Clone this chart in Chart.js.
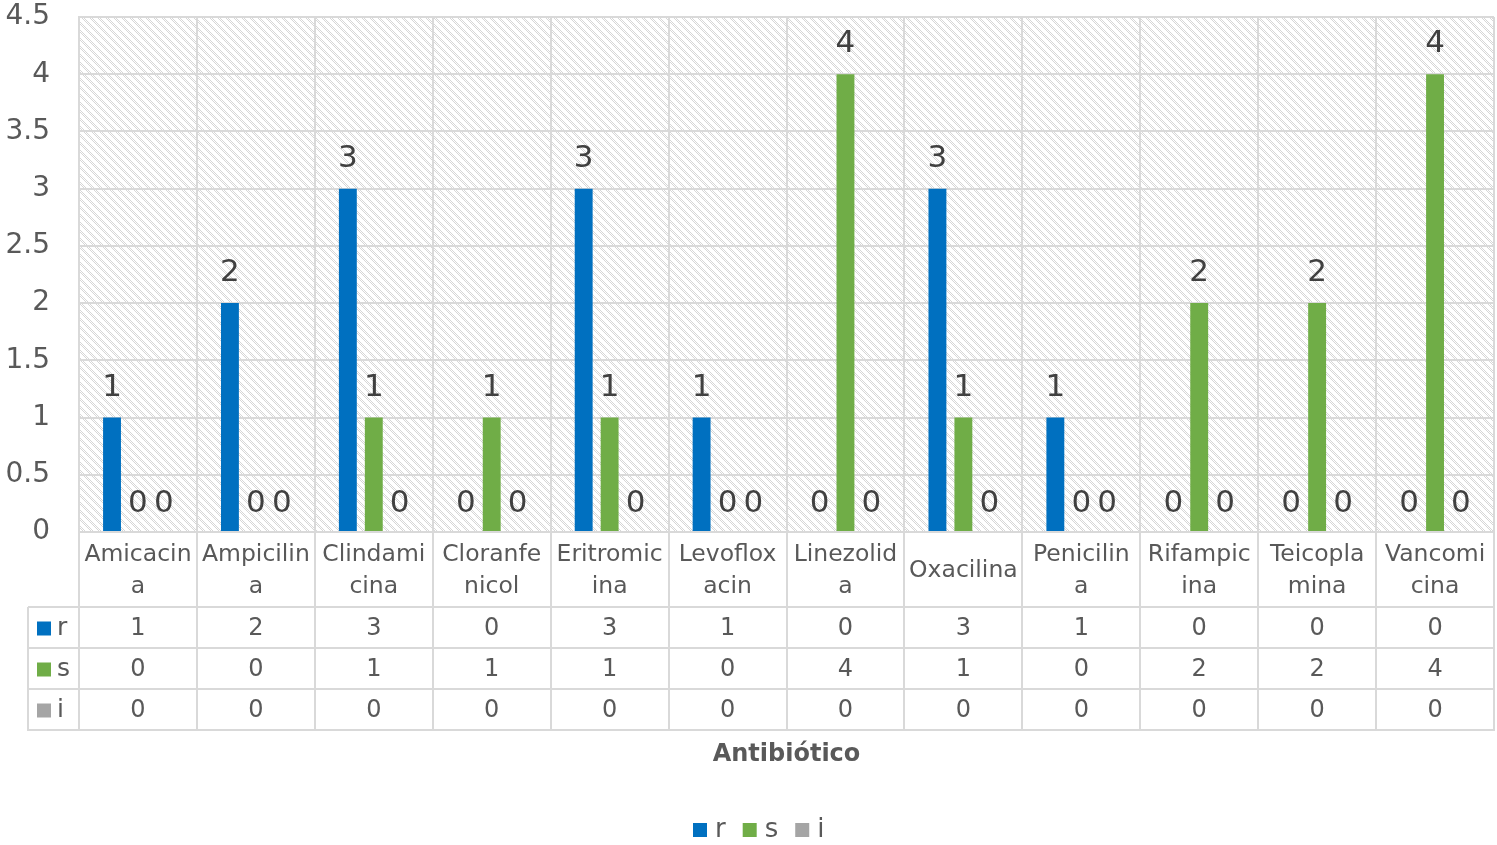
<!DOCTYPE html>
<html><head><meta charset="utf-8">
<script src="https://cdn.jsdelivr.net/npm/chart.js@4.4.1/dist/chart.umd.min.js"></script>
<style>html,body{margin:0;padding:0;background:#fff;overflow:hidden;}</style>
</head><body>
<canvas id="c" width="1497" height="845"></canvas>
<script>
// ---- data ----
const categories = ["Amicacina","Ampicilina","Clindamicina","Cloranfenicol","Eritromicina","Levofloxacin","Linezolida","Oxacilina","Penicilina","Rifampicina","Teicoplamina","Vancomicina"];
const categoryLines = [["Amicacin","a"],["Ampicilin","a"],["Clindami","cina"],["Cloranfe","nicol"],["Eritromic","ina"],["Levoflox","acin"],["Linezolid","a"],["Oxacilina"],["Penicilin","a"],["Rifampic","ina"],["Teicopla","mina"],["Vancomi","cina"]];
const seriesNames = ["r","s","i"];
const rValues = [1,2,3,0,3,1,0,3,1,0,0,0];
const sValues = [0,0,1,1,1,0,4,1,0,2,2,4];
const iValues = [0,0,0,0,0,0,0,0,0,0,0,0];
const seriesColors = ["#0070C0","#70AD47","#A5A5A5"];
const yMin = 0, yMax = 4.5, yStep = 0.5;
const axisTitle = "Antibiótico";

const FONT = "'DejaVu Sans', sans-serif";
const TXT = "#595959";
const GRID = "#d9d9d9";

function makePattern(ctx){
  const c = document.createElement('canvas'); c.width = 8; c.height = 8;
  const g = c.getContext('2d');
  g.fillStyle = '#ffffff'; g.fillRect(0,0,8,8);
  g.fillStyle = '#d6d6d6';
  for (let y=0;y<8;y++) for (let x=0;x<8;x++){
    const d = ((x-y)%8+8)%8;
    if (d<4 && (x+y)%2===0) g.fillRect(x,y,1,1);
  }
  return ctx.createPattern(c,'repeat');
}

const extras = {
  id: 'extras',
  beforeDraw(chart){
    const {ctx, chartArea:a} = chart;
    ctx.save();
    ctx.fillStyle = makePattern(ctx);
    ctx.fillRect(a.left, a.top, a.right-a.left, a.bottom-a.top);
    ctx.restore();
  },
  afterDraw(chart){
    const {ctx, chartArea:a} = chart;
    const xs = chart.scales.x;
    const n = categories.length;
    const w = (a.right - a.left)/n;
    const seriesValues = [rValues, sValues, iValues];
    ctx.save();
    // data labels
    ctx.font = "31px " + FONT;
    ctx.fillStyle = "#404040";
    ctx.textAlign = 'center'; ctx.textBaseline = 'alphabetic';
    chart.data.datasets.forEach((ds, di) => {
      const meta = chart.getDatasetMeta(di);
      meta.data.forEach((el, j) => {
        const v = ds.data[j];
        ctx.fillText(String(v), el.x, el.y - (v === 0 ? 20 : 22));
      });
    });
    // table
    const labelBottom = 607, rowH = 41, keyLeft = 28;
    const rowsBottom = labelBottom + rowH*3;
    ctx.strokeStyle = GRID; ctx.lineWidth = 2;
    ctx.beginPath();
    for (let j=0;j<=n;j++){
      const x = Math.round(a.left + j*w);
      ctx.moveTo(x, a.bottom); ctx.lineTo(x, rowsBottom);
    }
    ctx.moveTo(keyLeft, labelBottom); ctx.lineTo(keyLeft, rowsBottom+1);
    for (let r=0;r<=3;r++){
      const y = labelBottom + r*rowH;
      ctx.moveTo(keyLeft, y); ctx.lineTo(a.right+1, y);
    }
    ctx.stroke();
    // category labels
    ctx.fillStyle = TXT;
    ctx.font = "23.5px " + FONT;
    ctx.textBaseline = 'middle'; ctx.textAlign = 'center';
    const midY = (a.bottom + labelBottom)/2;
    for (let j=0;j<n;j++){
      const cx = xs.getPixelForValue(j);
      const lines = categoryLines[j];
      const lh = 32;
      lines.forEach((t, k) => {
        ctx.fillText(t, cx, midY + (k - (lines.length-1)/2)*lh + 1);
      });
    }
    // rows
    for (let r=0;r<3;r++){
      const cy = labelBottom + r*rowH + rowH/2 + 1;
      ctx.fillStyle = seriesColors[r];
      ctx.fillRect(37, cy-7, 14, 14);
      ctx.fillStyle = TXT;
      ctx.textAlign = 'left';
      ctx.font = "25px " + FONT;
      ctx.fillText(seriesNames[r], 57, cy);
      ctx.textAlign = 'center';
      ctx.font = "24px " + FONT;
      for (let j=0;j<n;j++){
        ctx.fillText(String(seriesValues[r][j]), xs.getPixelForValue(j), cy);
      }
    }
    // axis title
    ctx.font = "bold 24px " + FONT;
    ctx.fillStyle = TXT;
    ctx.textAlign = 'center';
    ctx.fillText(axisTitle, (a.left + a.right)/2, 755);
    // legend
    ctx.font = "26px " + FONT;
    ctx.textAlign = 'left';
    let lx = 693; const ly = 830;
    seriesNames.forEach((s, k) => {
      ctx.fillStyle = seriesColors[k];
      ctx.fillRect(lx, ly-7, 14, 14);
      ctx.fillStyle = TXT;
      ctx.fillText(s, lx + 22, ly);
      lx += 22 + ctx.measureText(s).width + 17;
    });
    ctx.restore();
  }
};

new Chart(document.getElementById('c'), {
  type: 'bar',
  data: {
    labels: categories,
    datasets: seriesNames.map((name, k) => ({
      label: name,
      data: [rValues, sValues, iValues][k],
      backgroundColor: seriesColors[k],
      borderWidth: 0,
      categoryPercentage: 0.66,
      barPercentage: 0.69
    }))
  },
  options: {
    responsive: false,
    animation: false,
    devicePixelRatio: 1,
    layout: { padding: { top: 17, right: 3, bottom: 313, left: 0 } },
    plugins: { legend: { display: false }, tooltip: { enabled: false } },
    scales: {
      x: {
        ticks: { display: false },
        grid: { color: GRID, lineWidth: 2, drawTicks: false, offset: true },
        border: { color: GRID, width: 2 },
        afterFit(s){ s.height = 0; s.paddingLeft = 0; s.paddingRight = 0; }
      },
      y: {
        min: yMin, max: yMax,
        ticks: { stepSize: yStep, color: TXT, font: { family: FONT, size: 28 }, padding: 29,
                 callback: (v) => String(Math.round(v*10)/10) },
        grid: { color: GRID, lineWidth: 2, drawTicks: false },
        border: { color: GRID, width: 2 },
        afterFit(s){ s.width = 79; s.paddingTop = 0; s.paddingBottom = 0; }
      }
    }
  },
  plugins: [extras]
});
</script>
</body></html>
